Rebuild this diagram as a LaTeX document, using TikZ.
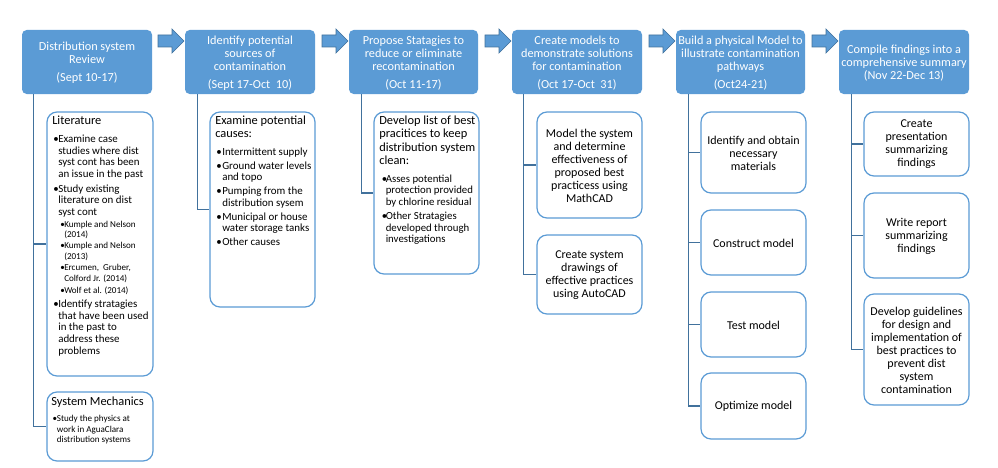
\documentclass[tikz,border=0pt]{standalone}
\usepackage{fontspec}
\setmainfont{Carlito}
\usetikzlibrary{calc,fit}
\definecolor{hblue}{HTML}{5B9BD5}
\definecolor{cblue}{HTML}{41719C}
\definecolor{sblue}{HTML}{5B9BD5}
\newdimen\PX \PX=0.75pt
\newcommand\LN[2]{\hbox{\vrule height #1\PX depth 0pt width 0pt\smash{#2}}}
\newcommand\BUL[2]{\hspace*{#1\PX}\makebox[#2\PX][l]{\textbullet}}
\newcommand\IND[1]{\hspace*{#1\PX}}
\newcommand\fH{\fontsize{9.3}{11}\selectfont}
\newcommand\fM{\fontsize{8.2}{10}\selectfont}
\newcommand\fN{\fontsize{8.1}{10}\selectfont}
\newcommand\fS{\fontsize{6.8}{8}\selectfont}
\begin{document}
\begin{tikzpicture}[x=0.75pt,y=-0.75pt,
 hdr/.style={fill=hblue,draw=none,rounded corners=3.5pt,inner sep=0pt},
 sub/.style={draw=sblue,line width=0.9pt,fill=white,rounded corners=7.5pt,inner sep=0pt},
 htext/.style={inner sep=0pt,text=white,align=center,font=\fontsize{9.2}{9.75}\selectfont},
 ctext/.style={inner sep=0pt,text=black,align=center,font=\fontsize{9}{9.75}\selectfont},
 conn/.style={draw=cblue,line width=1pt},
 txt/.style={anchor=north west,inner sep=0pt,text=black},
 blockarrow/.pic={\draw[fill=hblue,draw=cblue,line width=0.5pt] (-13,-6) -- (1,-6) -- (1,-12) -- (13,0) -- (1,12) -- (1,6) -- (-13,6) -- cycle;}]
\useasboundingbox (0,0) rectangle (998,467);

% headers
\node[hdr,fit={(22,30)(152,94)}] (h1) {};
\node[hdr,fit={(185,30)(315,94)}] (h2) {};
\node[hdr,fit={(349,30)(478,94)}] (h3) {};
\node[hdr,fit={(512,30)(642,94)}] (h4) {};
\node[hdr,fit={(676,30)(805,94)}] (h5) {};
\node[hdr,fit={(839,30)(969,94)}] (h6) {};
\node[htext] (t1) at ($(h1.center)+(0,1)$) {Distribution system\\Review\\[3.75pt](Sept 10-17)};
\node[htext] (t2) at ($(h2.center)+(0,1)$) {Identify potential\\sources of\\contamination\\[3.75pt](Sept 17-Oct~~10)};
\node[htext] (t3) at ($(h3.center)+(0,1)$) {Propose Statagies to\\reduce or eliminate\\recontamination\\[3.75pt](Oct 11-17)};
\node[htext] (t4) at ($(h4.center)+(0,1)$) {Create models to\\demonstrate solutions\\for contamination\\[3.75pt](Oct 17-Oct~~31)};
\node[htext] (t5) at ($(h5.center)+(0,1)$) {Build a physical Model to\\illustrate contamination\\pathways\\[3.75pt](Oct24-21)};
\node[htext] (t6) at ($(h6.center)+(0,1)$) {Compile findings into a\\comprehensive summary\\(Nov 22-Dec 13)};

% arrows
\pic at (171,41) {blockarrow};
\pic at (335,41) {blockarrow};
\pic at (498,41) {blockarrow};
\pic at (662,41) {blockarrow};
\pic at (825,41) {blockarrow};

% sub boxes
\node[sub,fit={(47,112)(153,376)}] (lit) {};
\node[sub,fit={(47,392)(153,461)}] (sysm) {};
\node[sub,fit={(210,112)(315,307)}] (exam) {};
\node[sub,fit={(374,112)(479,274)}] (devl) {};
\node[sub,fit={(537,112)(642,218)}] (modl) {};
\node[sub,fit={(537,235)(642,314)}] (cdrw) {};
\node[sub,fit={(701,112)(806,193)}] (b5a) {};
\node[sub,fit={(701,210)(806,275)}] (b5b) {};
\node[sub,fit={(701,292)(806,357)}] (b5c) {};
\node[sub,fit={(701,373)(806,439)}] (b5d) {};
\node[sub,fit={(864,112)(969,176)}] (b6a) {};
\node[sub,fit={(864,193)(969,278)}] (b6b) {};
\node[sub,fit={(864,294)(969,405)}] (b6c) {};

\node[ctext] (modlt) at ($(modl.center)+(0,0.5)$) {Model the system\\and determine\\effectiveness of\\proposed best\\practicess using\\MathCAD};
\node[ctext] (cdrwt) at ($(cdrw.center)+(0,0.5)$) {Create system\\drawings of\\effective practices\\using AutoCAD};
\node[ctext] (b5at) at ($(b5a.center)+(0,0.5)$) {Identify and obtain\\necessary\\materials};
\node[ctext] (b5bt) at ($(b5b.center)+(0,0.5)$) {Construct model};
\node[ctext] (b5ct) at ($(b5c.center)+(0,0.5)$) {Test model};
\node[ctext] (b5dt) at ($(b5d.center)+(0,0.5)$) {Optimize model};
\node[ctext] (b6at) at ($(b6a.center)+(0,0.5)$) {Create\\presentation\\summarizing\\findings};
\node[ctext] (b6bt) at ($(b6b.center)+(0,0.5)$) {Write report\\summarizing\\findings};
\node[ctext] (b6ct) at ($(b6c.center)+(0,0.5)$) {Develop guidelines\\for design and\\implementation of\\best practices to\\prevent dist\\system\\contamination};

% connectors
\draw[conn] ($(h1.south west)+(12,0)$) |- (sysm.west);
\draw[conn] ($(h1.south west)+(12,0)$) |- (lit.west);
\draw[conn] ($(h2.south west)+(13,0)$) |- (exam.west);
\draw[conn] ($(h3.south west)+(13,0)$) |- (devl.west);
\draw[conn] ($(h4.south west)+(12,0)$) |- (cdrw.west);
\draw[conn] ($(h4.south west)+(12,0)$) |- (modl.west);
\draw[conn] ($(h5.south west)+(13,0)$) |- (b5d.west);
\draw[conn] ($(h5.south west)+(13,0)$) |- (b5c.west);
\draw[conn] ($(h5.south west)+(13,0)$) |- (b5b.west);
\draw[conn] ($(h5.south west)+(13,0)$) |- (b5a.west);
\draw[conn] ($(h6.south west)+(13,0)$) |- (b6c.west);
\draw[conn] ($(h6.south west)+(13,0)$) |- (b6b.west);
\draw[conn] ($(h6.south west)+(13,0)$) |- (b6a.west);

% left-aligned texts
\node[txt] (littxt) at (52,112) {\vbox{\offinterlineskip
\LN{12.5}{\fH Literature}
\LN{18}{\fM\BUL{1}{5}Examine case}
\LN{11.6}{\fM\IND{6}studies where dist}
\LN{11.6}{\fM\IND{6}syst cont has been}
\LN{11.6}{\fM\IND{6}an issue in the past}
\LN{14.5}{\fM\BUL{1}{5}Study existing}
\LN{11.6}{\fM\IND{6}literature on dist}
\LN{11.6}{\fM\IND{6}syst cont}
\LN{12}{\fS\BUL{8}{4}Kumple and Nelson}
\LN{10.2}{\fS\IND{12}(2014)}
\LN{11.5}{\fS\BUL{8}{4}Kumple and Nelson}
\LN{10.2}{\fS\IND{12}(2013)}
\LN{11.8}{\fS\BUL{8}{4}Ercumen,~ Gruber,}
\LN{10.5}{\fS\IND{12}Colford Jr. (2014)}
\LN{11.8}{\fS\BUL{8}{4}Wolf et al. (2014)}
\LN{14.4}{\fM\BUL{1}{5}Identify stratagies}
\LN{11.6}{\fM\IND{6}that have been used}
\LN{11.6}{\fM\IND{6}in the past to}
\LN{11.6}{\fM\IND{6}address these}
\LN{11.6}{\fM\IND{6}problems}}};

\node[txt] (sysmtxt) at (51,392) {\vbox{\offinterlineskip
\LN{13.2}{\fH System Mechanics}
\LN{16.5}{\fS\BUL{1.3}{4.4}Study the physics at}
\LN{10.4}{\fS\IND{5.7}work in AguaClara}
\LN{10.4}{\fS\IND{5.7}distribution systems}}};

\node[txt] (examtxt) at (215,112) {\vbox{\offinterlineskip
\LN{12.2}{\fH Examine potential}
\LN{13.3}{\fH causes:}
\LN{17.7}{\fM\BUL{1}{6}Intermittent supply}
\LN{13.7}{\fM\BUL{1}{6}Ground water levels}
\LN{11.8}{\fM\IND{7}and topo}
\LN{13.7}{\fM\BUL{1}{6}Pumping from the}
\LN{11.8}{\fM\IND{7}distribution sysem}
\LN{13.7}{\fM\BUL{1}{6}Municipal or house}
\LN{11.8}{\fM\IND{7}water storage tanks}
\LN{13.7}{\fM\BUL{1}{6}Other causes}}};

\node[txt] (devltxt) at (379,112) {\vbox{\offinterlineskip
\LN{12.2}{\fH Develop list of best}
\LN{13.3}{\fH pracitices to keep}
\LN{13.3}{\fH distribution system}
\LN{13.4}{\fH clean:}
\LN{17.6}{\fN\BUL{2.5}{4}Asses potential}
\LN{11.7}{\fN\IND{6.5}protection provided}
\LN{11.7}{\fN\IND{6.5}by chlorine residual}
\LN{14}{\fN\BUL{2.5}{4}Other Stratagies}
\LN{11.6}{\fN\IND{6.5}developed through}
\LN{11.7}{\fN\IND{6.5}investigations}}};
\end{tikzpicture}
\end{document}
